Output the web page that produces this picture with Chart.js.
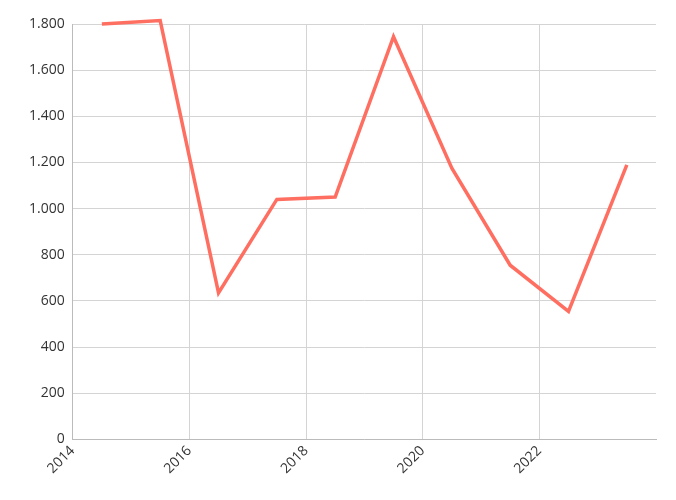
<!DOCTYPE html>
<html>
<head>
<meta charset="utf-8">
<script src="https://cdn.jsdelivr.net/npm/chart.js@4"></script>
<style>
  html, body { margin: 0; padding: 0; background: #fff; }
</style>
</head>
<body>
<canvas id="lineChart" width="676" height="500"></canvas>
<script>
// mid-year data points
const years = [2014.5, 2015.5, 2016.5, 2017.5, 2018.5, 2019.5, 2020.5, 2021.5, 2022.5, 2023.5];
const values = [1800, 1815, 635, 1040, 1050, 1745, 1175, 755, 555, 1190];
const xTicks = [2014, 2016, 2018, 2020, 2022];

const ctx = document.getElementById("lineChart").getContext("2d");

new Chart(ctx, {
  type: "line",
  data: {
    datasets: [
      {
        data: years.map((y, i) => ({ x: y, y: values[i] })),
        borderColor: "#ff6f61",
        borderWidth: 3.5,
        pointRadius: 0,
        tension: 0,
        fill: false,
        clip: false,
      },
    ],
  },
  options: {
    responsive: false,
    animation: false,
    layout: { padding: { top: 24, right: 20, left: 21, bottom: 20 } },
    plugins: { legend: { display: false }, tooltip: { enabled: false } },
    scales: {
      x: {
        type: "linear",
        min: 2014,
        max: 2024,
        afterBuildTicks: (axis) => {
          axis.ticks = xTicks.map((v) => ({ value: v }));
        },
        ticks: {
          callback: (v) => String(v),
          maxRotation: 45,
          minRotation: 45,
          color: "#333",
          font: { family: "Open Sans", size: 14 },
        },
        grid: { color: "#d4d4d4", tickLength: 0 },
        border: { color: "#bbb" },
      },
      y: {
        min: 0,
        max: 1800,
        ticks: {
          stepSize: 200,
          callback: (v) => v.toLocaleString("de-DE"),
          color: "#333",
          padding: 8,
          font: { family: "Open Sans", size: 14 },
        },
        grid: { color: "#d4d4d4", tickLength: 0 },
        border: { color: "#bbb" },
      },
    },
  },
});
</script>
</body>
</html>
